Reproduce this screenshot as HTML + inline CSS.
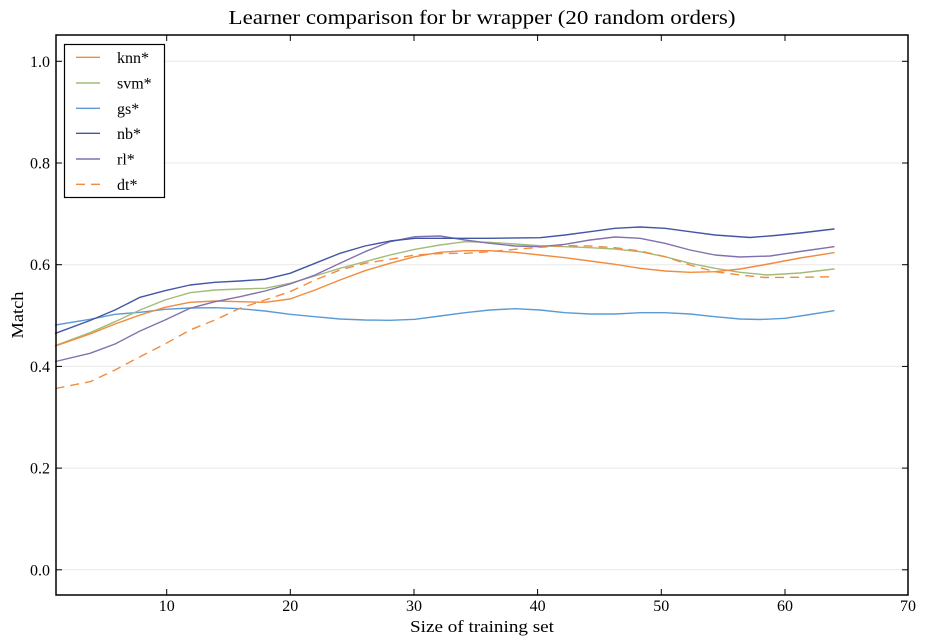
<!DOCTYPE html>
<html>
<head>
<meta charset="utf-8">
<style>
  html, body { margin:0; padding:0; background:#fff; }
  svg { display:block; }
  text { font-family: "Liberation Serif", "DejaVu Serif", serif; fill:#000; }
</style>
</head>
<body>
<svg width="926" height="644" viewBox="0 0 926 644" xmlns="http://www.w3.org/2000/svg">
  <rect x="0" y="0" width="926" height="644" fill="#fff"/>

  <!-- title -->
  <text x="482" y="24" font-size="20" text-anchor="middle" textLength="507" lengthAdjust="spacingAndGlyphs">Learner comparison for br wrapper (20 random orders)</text>

  <!-- gridlines -->
  <g stroke="#e8e8e8" stroke-width="1">
    <line x1="56" y1="569.8" x2="908" y2="569.8"/>
    <line x1="56" y1="468.1" x2="908" y2="468.1"/>
    <line x1="56" y1="366.4" x2="908" y2="366.4"/>
    <line x1="56" y1="264.7" x2="908" y2="264.7"/>
    <line x1="56" y1="163" x2="908" y2="163"/>
    <line x1="56" y1="61.3" x2="908" y2="61.3"/>
  </g>

  <!-- series -->
  <g fill="none" stroke-width="1.4" stroke-linejoin="round" stroke-linecap="round">
    <!-- gs -->
    <polyline stroke="#5b9bd5" points="55.5,325 90,319.3 115,314.3 140,312.3 165,309.3 190,308 215,307.7 240,308.7 265,311 290,314.3 315,316.7 340,319 365,320 390,320.3 415,319.3 440,316 465,312.7 490,310 515,308.7 540,310 565,312.7 590,314 615,314 640,312.7 665,312.7 690,314 715,316.7 740,319 760,319.5 785,318.3 810,314.5 834,310.7"/>
    <!-- svm -->
    <polyline stroke="#a3bb7a" points="55.5,345.5 90,332.7 115,321.7 140,310 165,300 190,292.7 215,290 240,289 265,288.3 290,283.3 315,276 340,268.3 365,261.7 390,255 415,249.3 440,245 465,241.7 490,242.3 515,244 540,245.7 565,246.7 590,247.7 615,249 640,251.7 665,256.7 690,263.3 715,268.3 740,272.3 767,275 800,273 834,269"/>
    <!-- knn -->
    <polyline stroke="#f28b3e" points="55.5,346 90,334 115,324 140,315 165,307.3 190,302.3 215,301 240,301.7 265,302.3 290,299 315,290 340,280 365,270.7 390,263.3 415,256.7 440,252.3 465,250.7 490,250.7 515,252.3 540,255 565,257.7 590,261 615,264.3 640,268.3 665,271 690,272.3 715,271.7 740,269 763,265 800,258 834,252.7"/>
    <!-- rl -->
    <polyline stroke="#8171b0" points="55.5,361.5 90,353.3 115,344 140,331 165,320 190,308.3 215,301.7 240,296.7 265,291 290,284 315,275 340,263.3 365,251.7 390,241.7 415,236.7 440,236 465,240 490,243.3 515,246 540,246.7 565,244.3 590,240 615,237 640,238.3 665,243.3 690,250 715,255 740,257 770,256 800,251.5 834,246.7"/>
    <!-- nb -->
    <polyline stroke="#4356a6" points="55.5,333.3 90,320.5 115,310 140,297.3 165,290.7 190,285 215,282.3 240,281 265,279.3 290,273.3 315,263.3 340,253.3 365,246 390,241 415,238.3 440,238.3 490,238.3 540,237.7 565,235 590,231.7 615,228.3 640,227 665,228.3 690,231.7 715,235 750,237.5 775,235.5 800,233 834,229"/>
    <!-- dt -->
    <polyline stroke="#f28b3e" stroke-dasharray="9 6" stroke-linecap="butt" points="55.5,388.5 90,381.7 115,370 140,356.7 165,344 190,330 215,320 240,308.3 265,300 290,291.7 315,280 340,270 365,263.3 390,259.3 415,255 440,253.5 465,253.3 490,251.7 515,249.3 540,247.3 565,245.7 590,246 615,247.7 640,251 665,256.7 690,265 715,271.7 740,275 765,277.5 800,277.3 834,276.7"/>
  </g>

  <!-- ticks -->
  <g stroke="#000" stroke-width="1">
    <!-- left -->
    <line x1="56" y1="569.8" x2="62" y2="569.8"/>
    <line x1="56" y1="468.1" x2="62" y2="468.1"/>
    <line x1="56" y1="366.4" x2="62" y2="366.4"/>
    <line x1="56" y1="264.7" x2="62" y2="264.7"/>
    <line x1="56" y1="163" x2="62" y2="163"/>
    <line x1="56" y1="61.3" x2="62" y2="61.3"/>
    <!-- right -->
    <line x1="902" y1="569.8" x2="908" y2="569.8"/>
    <line x1="902" y1="468.1" x2="908" y2="468.1"/>
    <line x1="902" y1="366.4" x2="908" y2="366.4"/>
    <line x1="902" y1="264.7" x2="908" y2="264.7"/>
    <line x1="902" y1="163" x2="908" y2="163"/>
    <line x1="902" y1="61.3" x2="908" y2="61.3"/>
    <!-- bottom -->
    <line x1="166.7" y1="595" x2="166.7" y2="589"/>
    <line x1="290.3" y1="595" x2="290.3" y2="589"/>
    <line x1="414" y1="595" x2="414" y2="589"/>
    <line x1="537.6" y1="595" x2="537.6" y2="589"/>
    <line x1="661.3" y1="595" x2="661.3" y2="589"/>
    <line x1="785" y1="595" x2="785" y2="589"/>
    <!-- top -->
    <line x1="166.7" y1="35" x2="166.7" y2="41"/>
    <line x1="290.3" y1="35" x2="290.3" y2="41"/>
    <line x1="414" y1="35" x2="414" y2="41"/>
    <line x1="537.6" y1="35" x2="537.6" y2="41"/>
    <line x1="661.3" y1="35" x2="661.3" y2="41"/>
    <line x1="785" y1="35" x2="785" y2="41"/>
  </g>

  <!-- spines -->
  <rect x="56" y="35" width="852" height="560" fill="none" stroke="#000" stroke-width="1.5"/>

  <!-- y tick labels -->
  <g font-size="16" text-anchor="end">
    <text x="50" y="575.3">0.0</text>
    <text x="50" y="473.6">0.2</text>
    <text x="50" y="371.9">0.4</text>
    <text x="50" y="270.2">0.6</text>
    <text x="50" y="168.5">0.8</text>
    <text x="50" y="66.8">1.0</text>
  </g>

  <!-- x tick labels -->
  <g font-size="16" text-anchor="middle">
    <text x="166.7" y="611">10</text>
    <text x="290.3" y="611">20</text>
    <text x="414" y="611">30</text>
    <text x="537.6" y="611">40</text>
    <text x="661.3" y="611">50</text>
    <text x="785" y="611">60</text>
    <text x="908" y="611">70</text>
  </g>

  <!-- axis labels -->
  <text x="482" y="632" font-size="17" text-anchor="middle" textLength="144" lengthAdjust="spacingAndGlyphs">Size of training set</text>
  <text transform="translate(23,315) rotate(-90)" font-size="17" text-anchor="middle" textLength="47" lengthAdjust="spacingAndGlyphs">Match</text>

  <!-- legend -->
  <rect x="64.5" y="44.5" width="100" height="153" fill="#fff" stroke="#000" stroke-width="1.2"/>
  <g stroke-width="1.4" fill="none">
    <line x1="76" y1="57.3" x2="100" y2="57.3" stroke="#f28b3e"/>
    <line x1="76" y1="83" x2="100" y2="83" stroke="#a3bb7a"/>
    <line x1="76" y1="108.3" x2="100" y2="108.3" stroke="#5b9bd5"/>
    <line x1="76" y1="133.3" x2="100" y2="133.3" stroke="#4356a6"/>
    <line x1="76" y1="159" x2="100" y2="159" stroke="#8171b0"/>
    <line x1="76" y1="184.3" x2="100" y2="184.3" stroke="#f28b3e" stroke-dasharray="9 6"/>
  </g>
  <g font-size="16">
    <text x="117" y="63">knn*</text>
    <text x="117" y="88.5">svm*</text>
    <text x="117" y="114">gs*</text>
    <text x="117" y="139">nb*</text>
    <text x="117" y="164.5">rl*</text>
    <text x="117" y="190">dt*</text>
  </g>
</svg>
</body>
</html>
